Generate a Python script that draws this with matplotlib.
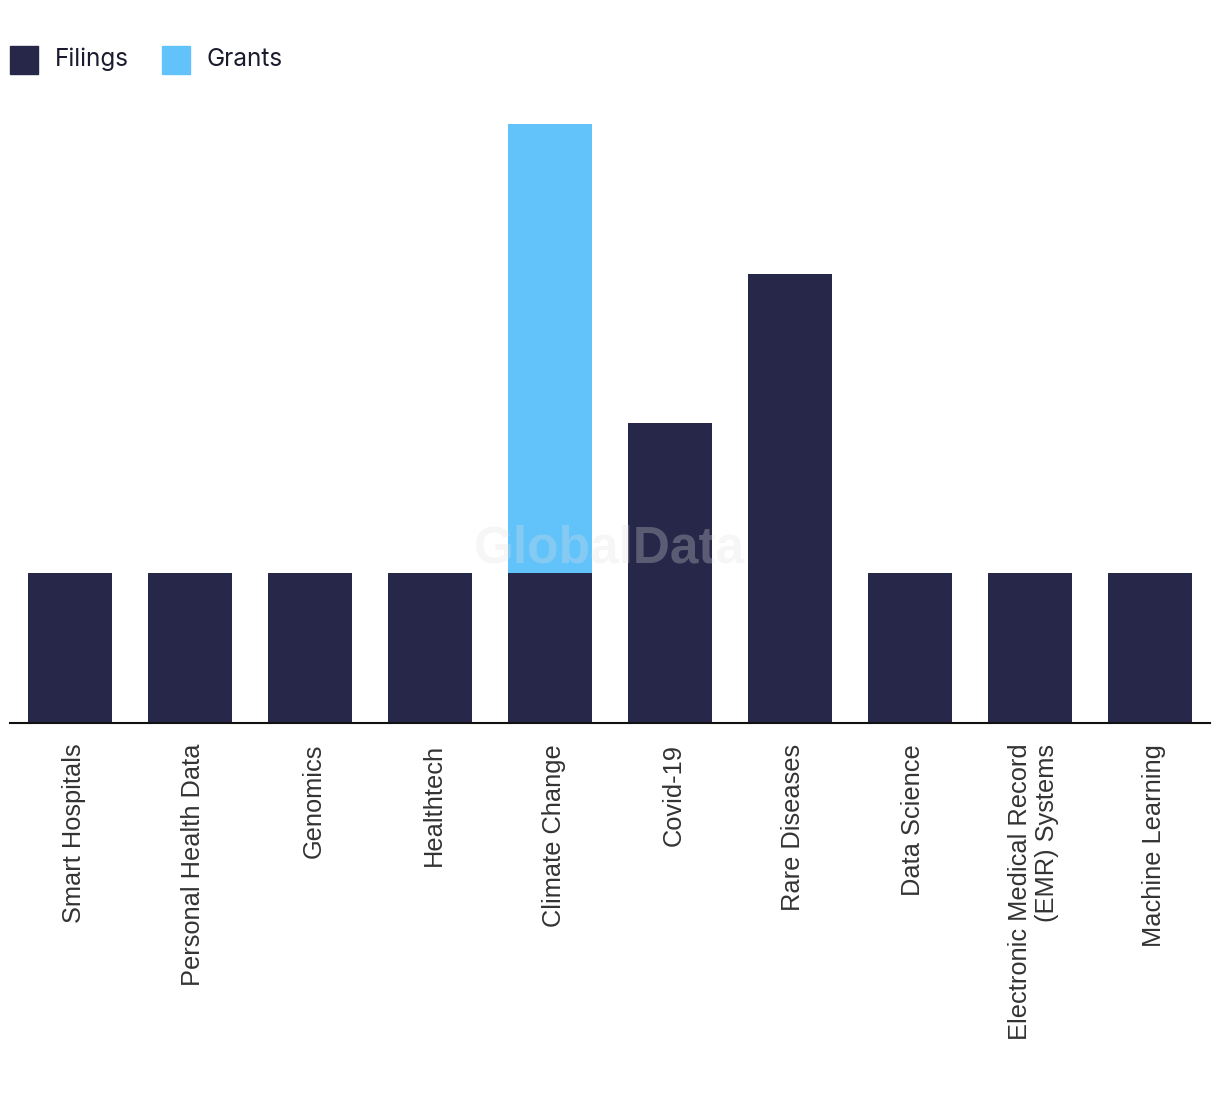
import matplotlib
matplotlib.use("Agg")
import matplotlib.pyplot as plt
import matplotlib.transforms as mtrans
from matplotlib.patches import Rectangle

categories = ["Smart Hospitals", "Personal Health Data", "Genomics", "Healthtech",
              "Climate Change", "Covid-19", "Rare Diseases", "Data Science",
              "Electronic Medical Record\n(EMR) Systems", "Machine Learning"]
filings = [1, 1, 1, 1, 1, 2, 3, 1, 1, 1]
grants = [0, 0, 0, 0, 3, 0, 0, 0, 0, 0]

navy = "#27274a"
sky = "#62c2fa"

fig = plt.figure(figsize=(12.2, 10.94), dpi=100)
ax = fig.add_axes([10 / 1220, (1094 - 723) / 1094, 1200 / 1220, 599 / 1094])

x = range(len(categories))
ax.bar(x, filings, width=0.7, color=navy, zorder=2)
ax.bar(x, grants, width=0.7, bottom=filings, color=sky, zorder=2)

ax.set_xlim(-0.5, len(categories) - 0.5)
ax.set_ylim(0, 4.0)
ax.set_yticks([])
ax.set_xticks(list(x))
ax.set_xticklabels(categories, rotation=90, fontsize=18.3, color="#333333",
                   family="Liberation Sans", va="top", ha="center",
                   multialignment="right")
ax.tick_params(axis="x", length=0, pad=15)
# nudge labels a few pixels right, like the original
shift = mtrans.ScaledTranslation(3.5 / 100, 0, fig.dpi_scale_trans)
for lbl in ax.get_xticklabels():
    lbl.set_transform(lbl.get_transform() + shift)
for s in ["top", "right", "left"]:
    ax.spines[s].set_visible(False)
ax.spines["bottom"].set_linewidth(1.5)
ax.spines["bottom"].set_color("#111111")
ax.spines["bottom"].set_zorder(3)

# watermark
ax.text(0.5, 0.29, "GlobalData", transform=ax.transAxes, ha="center", va="center",
        fontsize=37, fontweight="bold", color="#e2e2e2", alpha=0.28,
        family="Liberation Sans", zorder=4)

# legend drawn by hand
W, H = 1220, 1094
for x0, col, lab in [(10, navy, "Filings"), (162, sky, "Grants")]:
    fig.add_artist(Rectangle((x0 / W, (H - 74) / H), 28 / W, 28 / H,
                             transform=fig.transFigure, color=col))
    fig.text((x0 + 45) / W, (H - 59) / H, lab, fontsize=17.5, color="#1b1b2f",
             family="Inter", va="center", ha="left")

fig.savefig("out.png", dpi=100)
